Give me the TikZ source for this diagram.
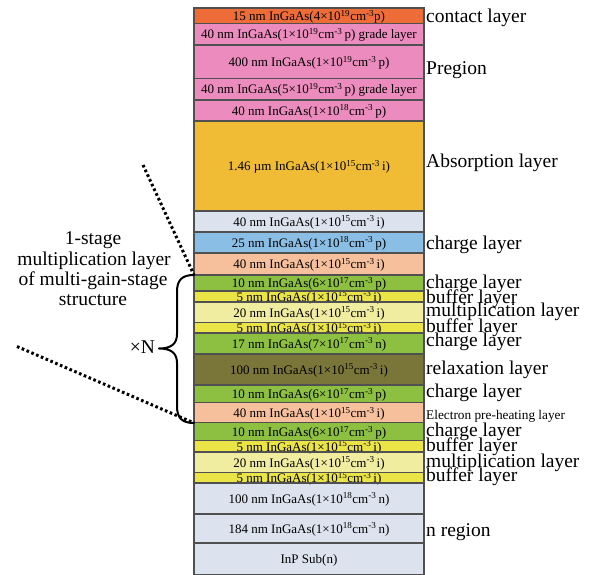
\documentclass[tikz,border=0pt]{standalone}
\usepackage{fontspec}
\setmainfont{Liberation Serif}

\definecolor{cContact}{RGB}{238,108,56}
\definecolor{cPink}{RGB}{236,139,189}
\definecolor{cAbsorb}{RGB}{240,188,53}
\definecolor{cPale}{RGB}{220,227,238}
\definecolor{cBlue}{RGB}{139,190,228}
\definecolor{cPeach}{RGB}{247,192,156}
\definecolor{cGreen}{RGB}{141,192,64}
\definecolor{cYellow}{RGB}{234,228,70}
\definecolor{cLemon}{RGB}{240,236,160}
\definecolor{cOlive}{RGB}{122,117,56}
\definecolor{cEdge}{RGB}{80,80,80}

% doping: (value x 10^exp cm^-3 type)
\newcommand\dopant[3]{(#1×10\textsuperscript{#2}cm\textsuperscript{-3}\,#3)}

\begin{document}
\begin{tikzpicture}[x=1pt,y=-1pt,
  layertext/.style={font=\fontsize{13}{15}\selectfont, anchor=mid, inner sep=0pt, yshift=-2.5pt},
  tag/.style={font=\fontsize{19.5}{21}\selectfont, anchor=mid west, inner sep=0pt, yshift=-3pt},
  smalltag/.style={font=\fontsize{13.3}{15}\selectfont, anchor=mid west, inner sep=0pt, yshift=-2.5pt},
  lefttext/.style={font=\fontsize{19.5}{21}\selectfont, anchor=mid, inner sep=0pt, yshift=-3pt},
  sep/.style={draw=cEdge, line width=1.1pt},
  dotline/.style={line width=3pt, dash pattern=on 2.6pt off 2.6pt},
  bracepath/.style={line width=2pt, line cap=round, line join=round},
]
\useasboundingbox (0,0) rectangle (598,575);
\fill[white] (0,0) rectangle (598,575);

% layer fills (top / bottom / colour)
\foreach \t/\b/\c in {
  8/23.3/cContact, 23.3/45/cPink, 45/78.3/cPink, 78.3/100/cPink, 100/121/cPink,
  121/211/cAbsorb, 211/232/cPale, 232/253/cBlue, 253/275/cPeach,
  275/291/cGreen, 291/302/cYellow, 302/322.7/cLemon, 322.7/333/cYellow,
  333/354/cGreen, 354/385/cOlive, 385/402.7/cGreen, 402.7/422.7/cPeach,
  422.7/440.7/cGreen, 440.7/452/cYellow, 452/472.7/cLemon, 472.7/483/cYellow,
  483/514/cPale, 514/543/cPale, 543/575/cPale}
  \fill[\c] (194,\t) rectangle (424,\b);

% layer captions
\foreach \y/\txt [count=\i] in {
  15.7/{15 nm InGaAs(4×10\textsuperscript{19}cm\textsuperscript{-3}p)},
  34.2/{40 nm InGaAs\dopant{1}{19}{p} grade layer},
  61.7/{400 nm InGaAs\dopant{1}{19}{p}},
  89.2/{40 nm InGaAs\dopant{5}{19}{p} grade layer},
  110.5/{40 nm InGaAs\dopant{1}{18}{p}},
  166/{1.46 µm InGaAs\dopant{1}{15}{i}},
  221.5/{40 nm InGaAs\dopant{1}{15}{i}},
  242.5/{25 nm InGaAs\dopant{1}{18}{p}},
  264/{40 nm InGaAs\dopant{1}{15}{i}},
  283/{10 nm InGaAs\dopant{6}{17}{p}},
  296.5/{5 nm InGaAs\dopant{1}{15}{i}},
  312.3/{20 nm InGaAs\dopant{1}{15}{i}},
  327.8/{5 nm InGaAs\dopant{1}{15}{i}},
  343.5/{17 nm InGaAs\dopant{7}{17}{n}},
  369.5/{100 nm InGaAs\dopant{1}{15}{i}},
  393.8/{10 nm InGaAs\dopant{6}{17}{p}},
  412.7/{40 nm InGaAs\dopant{1}{15}{i}},
  431.7/{10 nm InGaAs\dopant{6}{17}{p}},
  446.3/{5 nm InGaAs\dopant{1}{15}{i}},
  462.3/{20 nm InGaAs\dopant{1}{15}{i}},
  477.8/{5 nm InGaAs\dopant{1}{15}{i}},
  498.5/{100 nm InGaAs\dopant{1}{18}{n}},
  528.5/{184 nm InGaAs\dopant{1}{18}{n}},
  559/{InP Sub(n)}}
  \node[layertext] (layer\i) at (309,\y) {\txt};

% separating lines and outer frame
\foreach \b in {23.3,45,78.3,100,121,211,232,253,275,291,302,322.7,333,354,385,
  402.7,422.7,440.7,452,472.7,483,514,543}
  \draw[sep] (194,\b) -- (424,\b);
\draw[sep, line width=1.4pt] (194,8) rectangle (424,574.5);

% names of the layers on the right
\foreach \y/\txt [count=\i] in {
  17/contact layer, 69/Pregion, 162/Absorption layer, 244/charge layer,
  283.3/charge layer, 298/buffer layer, 311.7/multiplication layer,
  327/buffer layer, 341.7/charge layer, 369.3/relaxation layer,
  392.7/charge layer, 431/charge layer, 446.7/buffer layer,
  462.3/multiplication layer, 476.7/buffer layer, 531/n region}
  \node[tag] (tag\i) at (426,\y) {\txt};
\node[smalltag] (tagheat) at (426,414.3) {Electron pre-heating layer};

% one stage of the multi-gain-stage structure
\coordinate (stageTop) at (194,275);
\coordinate (stageBot) at (194,423);
\coordinate (dotA) at (143,165);
\coordinate (dotB) at (17,346.5);

\draw[bracepath] (stageTop) .. controls (182,275) and (177,280) .. (177,292)
  -- (177,334) .. controls (177,344) and (171,348.5) .. (159,348.5)
  .. controls (171,348.5) and (177,353) .. (177,363)
  -- (177,406) .. controls (177,418) and (182,423) .. (stageBot);

\draw[dotline] (dotA) -- (stageTop);
\draw[dotline] (dotB) -- (stageBot);

\node[lefttext] (stageL1) at (93,239) {1-stage};
\node[lefttext] (stageL2) at (94,260.5) {multiplication layer};
\node[lefttext] (stageL3) at (93,280.5) {of multi-gain-stage};
\node[lefttext] (stageL4) at (93,300.5) {structure};
\node[lefttext] (times) at (142.5,348) {×N};
\end{tikzpicture}
\end{document}
